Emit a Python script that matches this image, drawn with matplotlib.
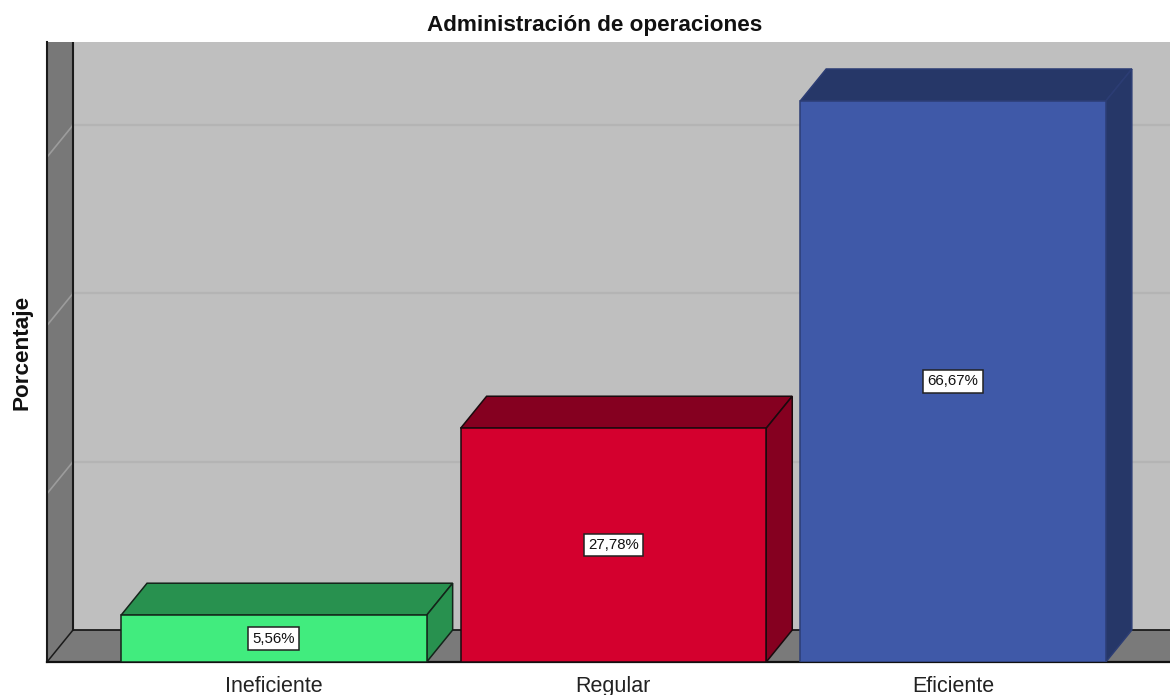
import matplotlib
matplotlib.use('Agg')
import matplotlib.pyplot as plt

categorias = ['Ineficiente', 'Regular', 'Eficiente']
porcentajes = [5.56, 27.78, 66.67]
etiquetas = ['5,56%', '27,78%', '66,67%']
lineas_guia = [20, 40, 60]
color_frente = ['#41EC7E', '#D4002E', '#3F59A8']
color_lado = ['#28914F', '#850020', '#263768']
color_borde = ['#14241A', '#1A0A0E', '#2C3D74']

plt.rcParams['font.family'] = ['Liberation Sans', 'DejaVu Sans']

W, H = 1170, 695
ancho = 0.9
# fondo 3D: profundidad en unidades de datos
dx = 26 / 339.5
dy = 32 / 8.415
x0, x1 = -0.668, 2.639
y1 = 73.68

f = plt.figure(figsize=(W / 100, H / 100), dpi=100)
ax = f.add_axes([47 / W, 1 - 662 / H, (W - 47) / W, 620 / H])
ax.set_xlim(x0, x1)
ax.set_ylim(0, y1)

# paredes y piso
ax.fill([x0 + dx, x1, x1, x0 + dx], [0, 0, y1, y1], color='#BFBFBF', lw=0, zorder=1)
ax.fill([x0, x0 + dx, x0 + dx, x0], [0, dy, y1, y1], color='#787878', lw=0, zorder=1)
ax.fill([x0, x0 + dx, x1, x1], [0, dy, dy, 0], color='#7A7A7A', lw=0, zorder=1)

for v in lineas_guia:
    ax.plot([x0 + dx, x1], [v + dy, v + dy], color='#B4B4B4', lw=1.6, zorder=2)
    ax.plot([x0, x0 + dx], [v, v + dy], color='#9C9C9C', lw=1.2, zorder=2)

ax.plot([x0, x0], [0, y1], color='#1A1A1A', lw=1.5, zorder=3, clip_on=False)
ax.plot([x0 + dx, x0 + dx], [dy, y1], color='#1A1A1A', lw=1.5, zorder=3)
ax.plot([x0 + dx, x1], [dy, dy], color='#1A1A1A', lw=1.3, zorder=3)
ax.plot([x0, x0 + dx], [0, dy], color='#1A1A1A', lw=1.1, zorder=3)
ax.plot([x0, x1], [0, 0], color='#111111', lw=1.6, zorder=3, clip_on=False)

# barras
for i, v in enumerate(porcentajes):
    a = i - ancho / 2
    b = i + ancho / 2
    ax.fill([a, b, b + dx, a + dx], [v, v, v + dy, v + dy],
            facecolor=color_lado[i], edgecolor=color_borde[i], lw=1.1, zorder=4)
    ax.fill([b, b + dx, b + dx, b], [0, dy, v + dy, v],
            facecolor=color_lado[i], edgecolor=color_borde[i], lw=1.1, zorder=4)
    ax.fill([a, b, b, a], [0, 0, v, v],
            facecolor=color_frente[i], edgecolor=color_borde[i], lw=1.1, zorder=5)
    ax.text(i, v / 2, etiquetas[i], ha='center', va='center', fontsize=10.8, color='#111111', zorder=6,
            bbox=dict(boxstyle='square,pad=0.28', facecolor='white', edgecolor='#222222', lw=1.1))

for s in ax.spines.values():
    s.set_visible(False)
ax.set_xticks(range(3))
ax.set_xticklabels(categorias, fontsize=15.5, color='#222222')
ax.set_yticks([])
ax.tick_params(axis='x', length=0, pad=10)

f.text(595 / W, 1 - 25 / H, 'Administración de operaciones', ha='center', va='center',
       fontsize=16.2, fontweight='bold', color='#111111')
f.text(22 / W, 1 - 352 / H, 'Porcentaje', ha='center', va='center', rotation=90,
       fontsize=16.2, fontweight='bold', color='#111111')

f.savefig('out.png', dpi=100)
